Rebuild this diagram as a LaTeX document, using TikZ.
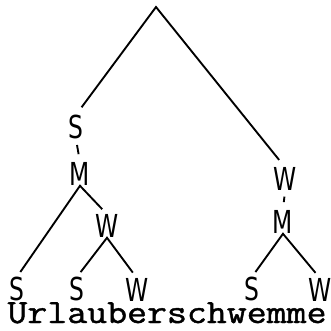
\documentclass[tikz,border=0pt]{standalone}
\usepackage{fontspec}
\newfontfamily\symbfont{DejaVu Sans}
\newfontfamily\motfont[FakeBold=1.2]{Latin Modern Mono}
\newcommand{\lettre}[1]{\scalebox{0.74}[1]{#1}}
\begin{document}
\begin{tikzpicture}[
    x=0.03cm, y=-0.03cm, % On travaille en pixels, y vers le bas
    % Etiquettes des noeuds de l'arbre
    symb/.style={inner sep=0pt, font=\fontsize{27}{27}\symbfont},
    mot/.style={inner sep=0pt, font=\fontsize{29}{29}\motfont},
    arete/.style={draw, line width=1.6pt, shorten <=5pt, shorten >=6pt},
    tiret/.style={draw, line width=1.6pt, shorten <=5pt, shorten >=7pt}
]
\useasboundingbox (0,0) rectangle (330,331);
% Racine
\coordinate (racine) at (156,7);
% Branche gauche
\node[symb] (s1) at (76,127) {\lettre{S}};
\node[symb] (m1) at (80,174) {\lettre{M}};
\node[symb] (w2) at (107,226) {\lettre{W}};
% Branche droite
\node[symb] (w1) at (285,179) {\lettre{W}};
\node[symb] (m2) at (283,222) {\lettre{M}};
% Feuilles
\node[symb] (fa) at (17,289) {\lettre{S}};
\node[symb] (fb) at (77,289) {\lettre{S}};
\node[symb] (fc) at (137,290) {\lettre{W}};
\node[symb] (fd) at (252,289) {\lettre{S}};
\node[symb] (fe) at (320,290) {\lettre{W}};
% Le mot
\node[mot, anchor=base] (mot) at (167,323) {\scalebox{1.14}[1]{Urlauberschwemme}};
% Aretes
\draw[arete, shorten <=8pt, shorten >=8pt] (s1.north) -- (racine) -- (w1.north);
\draw[tiret] (s1.south) -- (m1.north);
\draw[tiret] (w1.south) -- (m2.north);
\draw[arete] (fa.north) -- (m1.south) -- (w2.north);
\draw[arete] (fb.north) -- (w2.south) -- (fc.north);
\draw[arete] (fd.north) -- (m2.south) -- (fe.north);
\end{tikzpicture}
\end{document}
